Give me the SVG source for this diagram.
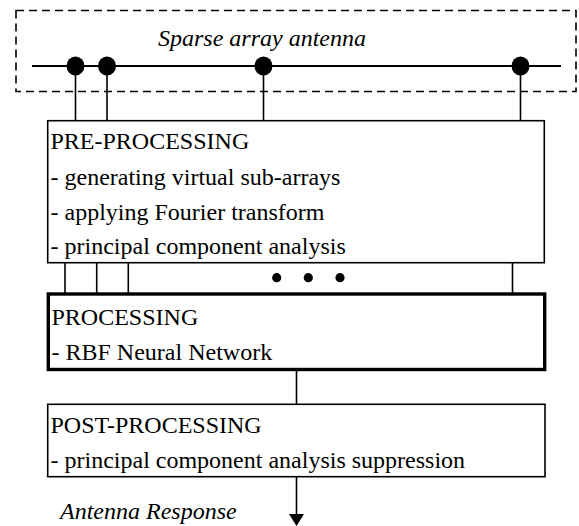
<svg xmlns="http://www.w3.org/2000/svg" width="579" height="526" viewBox="0 0 579 526">
<style>
text{font-family:"Liberation Serif","Times New Roman",serif;font-size:24px;fill:#000}
.it{font-style:italic}
.box{fill:#fff;stroke:#000;stroke-width:1.6}
.thick{fill:#fff;stroke:#000;stroke-width:3.4}
.ln{stroke:#000;stroke-width:1.6;fill:none}
</style>
<g id="antenna">
<rect x="16" y="10.5" width="560" height="81" fill="none" stroke="#000" stroke-width="1.6" stroke-dasharray="8,5"/>
<text class="it" x="158" y="46">Sparse array antenna</text>
<line x1="32" y1="66" x2="561" y2="66" stroke="#000" stroke-width="2"/>
<ellipse cx="75.5" cy="66" rx="9" ry="9.5"/>
<ellipse cx="107" cy="66" rx="9" ry="9.5"/>
<ellipse cx="263.5" cy="66" rx="9" ry="9.5"/>
<ellipse cx="520.5" cy="66" rx="9" ry="9.5"/>
</g>
<g id="connectors">
<line class="ln" x1="75.5" y1="66" x2="75.5" y2="121"/>
<line class="ln" x1="107" y1="66" x2="107" y2="121"/>
<line class="ln" x1="263.5" y1="66" x2="263.5" y2="121"/>
<line class="ln" x1="520.5" y1="66" x2="520.5" y2="121"/>
<line class="ln" x1="65" y1="262" x2="65" y2="294"/>
<line class="ln" x1="96.7" y1="262" x2="96.7" y2="294"/>
<line class="ln" x1="128.3" y1="262" x2="128.3" y2="294"/>
<line class="ln" x1="512.5" y1="262" x2="512.5" y2="294"/>
<circle cx="276.7" cy="277.7" r="4.6"/>
<circle cx="308.3" cy="277.7" r="4.6"/>
<circle cx="340" cy="277.7" r="4.6"/>
<line class="ln" x1="296.5" y1="370" x2="296.5" y2="404"/>
<line class="ln" x1="296.5" y1="476" x2="296.5" y2="516"/>
<polygon points="289,514 304,514 296.5,526"/>
</g>
<g id="pre">
<rect class="box" x="47.7" y="120.7" width="496.6" height="142"/>
<text x="50.5" y="149">PRE-PROCESSING</text>
<text x="50.5" y="185">- generating virtual sub-arrays</text>
<text x="50.5" y="220">- applying Fourier transform</text>
<text x="50.5" y="254">- principal component analysis</text>
</g>
<g id="processing">
<rect class="thick" x="48.3" y="294" width="496.4" height="75.5"/>
<text x="51.5" y="325">PROCESSING</text>
<text x="51.5" y="360">- RBF Neural Network</text>
</g>
<g id="post">
<rect class="box" x="47.7" y="404.3" width="497.3" height="72.4"/>
<text x="50.5" y="433">POST-PROCESSING</text>
<text x="50.5" y="468">- principal component analysis suppression</text>
</g>
<text id="response" class="it" x="60" y="519">Antenna Response</text>
</svg>
